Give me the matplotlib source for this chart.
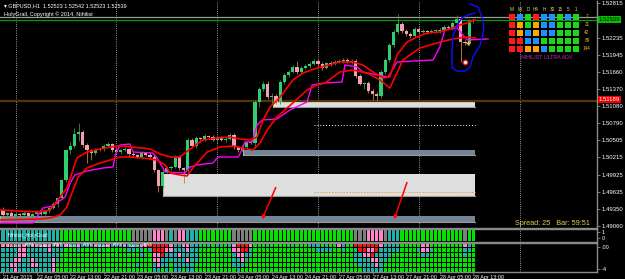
import matplotlib
matplotlib.use("Agg")
import matplotlib.pyplot as plt
import numpy as np

plt.rcParams['font.family'] = ['Liberation Sans', 'DejaVu Sans']

# ---------------------------------------------------------
# GBPUSD H1 candles (open of a bar = close of the bar before)
# ---------------------------------------------------------
first_open = 1.49330
close = [
    1.49245, 1.49279, 1.49229, 1.49262, 1.49245, 1.49279, 1.49229, 1.49262, 1.49296, 1.49262,
    1.49313, 1.49364, 1.49431, 1.49532, 1.49836, 1.50341, 1.50409, 1.50611, 1.50645, 1.50426,
    1.50341, 1.50291, 1.50341, 1.50358, 1.50409, 1.50443, 1.50341, 1.50308, 1.50341, 1.50358,
    1.50274, 1.50257, 1.50223, 1.50291, 1.50257, 1.50223, 1.50004, 1.49734, 1.49970, 1.50038,
    1.50055, 1.50223, 1.50038, 1.50004, 1.50510, 1.50409, 1.50544, 1.50527, 1.50577, 1.50561,
    1.50510, 1.50561, 1.50510, 1.50527, 1.50594, 1.50392, 1.50341, 1.50392, 1.50476, 1.50459,
    1.51151, 1.51370, 1.51454, 1.51235, 1.51252, 1.51151, 1.51488, 1.51606, 1.51656, 1.51741,
    1.51656, 1.51724, 1.51758, 1.51791, 1.51842, 1.51791, 1.51724, 1.51808, 1.51791, 1.51825,
    1.51842, 1.51859, 1.51825, 1.51842, 1.51589, 1.51454, 1.51471, 1.51336, 1.51286, 1.51252,
    1.51656, 1.51859, 1.52112, 1.52331, 1.52466, 1.52348, 1.52297, 1.52263, 1.52381, 1.52331,
    1.52348, 1.52331, 1.52348, 1.52348, 1.52365, 1.52415, 1.52398, 1.52483, 1.52550, 1.52162,
    1.52145, 1.52516, 1.52539,
]
# wicks beyond the body, in pips
wick_up = [
    5, 2, 3, 2, 2, 3, 2, 2, 3, 2,
    2, 2, 3, 2, 2, 2, 6, 10, 15, 4,
    3, 2, 3, 2, 3, 4, 2, 3, 2, 3,
    2, 3, 2, 3, 2, 3, 3, 2, 3, 3,
    2, 4, 3, 2, 3, 3, 4, 2, 3, 2,
    3, 2, 2, 3, 3, 4, 2, 3, 2, 3,
    3, 4, 5, 5, 5, 3, 4, 3, 3, 4,
    10, 3, 3, 3, 4, 3, 3, 2, 3, 3,
    3, 4, 3, 3, 3, 3, 2, 3, 4, 3,
    3, 4, 3, 4, 17, 3, 3, 3, 4, 3,
    3, 2, 3, 3, 3, 4, 3, 4, 6, 3,
    3, 4, 3,
]
wick_dn = [
    8, 2, 3, 2, 3, 2, 2, 3, 2, 2,
    2, 3, 2, 5, 2, 3, 6, 3, 12, 3,
    22, 12, 3, 2, 3, 2, 3, 2, 3, 2,
    5, 3, 2, 3, 2, 3, 4, 10, 3, 2,
    3, 2, 3, 22, 3, 2, 3, 2, 3, 2,
    2, 3, 2, 3, 2, 3, 3, 2, 3, 2,
    8, 9, 3, 3, 12, 3, 4, 3, 3, 2,
    3, 3, 2, 3, 2, 3, 3, 2, 3, 2,
    2, 3, 2, 3, 3, 2, 8, 3, 10, 6,
    3, 3, 3, 3, 3, 3, 4, 3, 2, 3,
    2, 3, 2, 3, 3, 2, 3, 3, 3, 33,
    4, 4, 3,
]

# ---------------------------------------------------------
# Moving averages (read at turning points)
# ---------------------------------------------------------
red_fast_x = [-0.7, 8.8, 11.2, 15.2, 17.6, 20.0, 23.1, 27.1, 31.0, 35.0, 37.4, 39.8, 42.1, 45.2,
              47.6, 50.95, 54.0, 56.4, 58.8, 60.5, 61.9, 63.6, 66.0, 69.0, 71.4, 74.8, 76.7, 80.2,
              83.3, 85.7, 88.1, 90.5, 92.1, 93.8, 96.2, 98.6, 101.0, 104.0, 106.4, 108.8, 110.5, 112.4]
red_fast_y = [1.49329, 1.49296, 1.49329, 1.49700, 1.50206, 1.50307, 1.50358, 1.50408, 1.50392, 1.50358,
              1.50274, 1.50223, 1.50223, 1.50392, 1.50510, 1.50543, 1.50560, 1.50527, 1.50510, 1.50560,
              1.50847, 1.51066, 1.51235, 1.51521, 1.51639, 1.51723, 1.51757, 1.51825, 1.51825, 1.51774,
              1.51656, 1.51555, 1.51572, 1.51943, 1.52162, 1.52246, 1.52314, 1.52331, 1.52381, 1.52449,
              1.52482, 1.52533]
red_slow_x = [-0.7, 8.8, 11.2, 13.6, 15.2, 16.4, 17.9, 20.0, 23.1, 25.5, 27.9, 30.2, 33.3, 36.7,
              38.6, 39.8, 42.1, 43.8, 45.2, 48.6, 51.7, 54.8, 57.1, 59.5, 61.2, 62.9, 65.2, 69.0,
              72.4, 74.8, 76.7, 80.2, 83.3, 86.7, 89.8, 92.1, 93.8, 95.2, 99.3, 103.3, 107.1, 110.5, 112.4]
red_slow_y = [1.49161, 1.49178, 1.49195, 1.49245, 1.49380, 1.49616, 1.49886, 1.50038, 1.50122, 1.50172,
              1.50223, 1.50223, 1.50206, 1.50172, 1.50088, 1.49953, 1.49920, 1.49903, 1.50038, 1.50307,
              1.50392, 1.50408, 1.50375, 1.50341, 1.50459, 1.50678, 1.50897, 1.51133, 1.51353, 1.51437,
              1.51471, 1.51656, 1.51690, 1.51639, 1.51521, 1.51386, 1.51639, 1.51858, 1.52061, 1.52145,
              1.52213, 1.52246, 1.52229]
magenta_x = [-0.7, 7.1, 9.5, 11.9, 14.8, 16.0, 17.1, 20.0, 23.8, 26.2, 26.7, 27.9, 30.2, 31.0,
             35.7, 36.7, 38.6, 43.3, 44.5, 46.2, 50.0, 51.2, 56.0, 56.9, 57.6, 59.3, 60.5, 61.7,
             65.2, 68.3, 72.4, 73.6, 76.7, 80.7, 81.4, 84.3, 85.7, 89.0, 91.7, 93.8, 102.4, 104.0,
             105.2, 108.1, 109.5, 110.5, 115.5]
magenta_y = [1.49110, 1.49110, 1.49363, 1.49397, 1.49549, 1.49785, 1.49920, 1.49987, 1.50038, 1.50054,
             1.50257, 1.50425, 1.50442, 1.50307, 1.50290, 1.50206, 1.49970, 1.49953, 1.50054, 1.50088,
             1.50122, 1.50223, 1.50223, 1.50341, 1.50476, 1.50476, 1.50763, 1.50847, 1.50864, 1.51015,
             1.51150, 1.51437, 1.51471, 1.51487, 1.51774, 1.51740, 1.51656, 1.51606, 1.51572, 1.51825,
             1.51858, 1.52078, 1.52364, 1.52398, 1.52280, 1.52196, 1.52213]

# ---------------------------------------------------------
# Supply / demand zones
# ---------------------------------------------------------
zone_start = [64.3, 57.1, 38.1, -0.7]
zone_end = [112.4, 112.4, 112.4, 112.4]
zone_top = [1.51184, 1.50341, 1.49936, 1.49228]
zone_bot = [1.51066, 1.50257, 1.49565, 1.49127]
zone_kind = ["light", "slate", "light", "slate"]

bid, ask = 1.52539, 1.52575
red_level, green_level = 1.51189, 1.51160
white_dotted, orange_dotted = 1.50763, 1.49633

arrow_from = [(65.2, 1.49751), (96.4, 1.49836)]
arrow_to = [(61.4, 1.49127), (92.9, 1.49127)]

loop_x = [111.2, 113.1, 114.3, 114.5, 113.6, 111.9, 111.2, 110.0, 107.9, 106.9, 106.9, 107.1,
          108.1, 109.3, 110.7, 112.4]
loop_y = [1.52803, 1.52752, 1.52533, 1.52364, 1.52112, 1.51909, 1.51740, 1.51673, 1.51673, 1.51740,
          1.51976, 1.52246, 1.52449, 1.52567, 1.52617, 1.52651]

price_ticks = [1.49060, 1.49350, 1.49635, 1.49925, 1.50215, 1.50505, 1.50790, 1.51080,
               1.51370, 1.51660, 1.51945, 1.52235, 1.52525, 1.52815]
# the 1.52525 label sits under the bid box
price_labels = ["1.49060", "1.49350", "1.49635", "1.49925", "1.50215", "1.50505", "1.50790", "1.51080",
                "1.51370", "1.51660", "1.51945", "1.52235", "", "1.52815"]
time_ticks = [0, 8, 16, 24, 32, 40, 48, 56, 64, 72, 80, 88, 96, 104, 112]
time_labels = ["21 Apr 2015", "22 Apr 05:00", "22 Apr 13:00", "22 Apr 21:00", "23 Apr 05:00",
               "23 Apr 13:00", "23 Apr 21:00", "24 Apr 05:00", "24 Apr 13:00", "24 Apr 21:00",
               "27 Apr 05:00", "27 Apr 13:00", "27 Apr 21:00", "28 Apr 05:00", "28 Apr 13:00"]
day_separators = [3, 27, 51, 75, 99, 123]

# ---------------------------------------------------------
# Indicator panels: one letter per bar
# g green, t teal, p pink, r red, a gray
# ---------------------------------------------------------
holygrail = ("tttttttttttttt" "ggggggggggggggggg" "aaaaa" "pppatappttt" "gggggggg"
             "aaaaa" "gggggggggggggggggggggggg" "aaappppa" "ttt" "ggggggggggggggg" "agg")
atr_rows = [
    "pprtpptpptpptp" "tpttptttpttptttpt" "ttppr" "rrrrpttpptt" "tgtgtggt" "prrrp"
    "gggtgggggtgggtttgtggptgg" "rrrrrrpt" "ttt" "gggggppgggggggg" "ptg",
    "ttttpptttttptt" "tgggtggggtggggggt" "tgtgt" "rrrpptttptt" "gggggggg" "pprrt"
    "gggggggggggggggttttggtgg" "trrpprtt" "ttt" "ggggtpptggggggg" "ttg",
    "ttttpptttttttt" "ggggggggggggggggg" "ggtgg" "pprtttptttt" "gggggggg" "tpptt"
    "gggggggggggggggggggggggg" "ttpprttt" "tgg" "gggggttgggggggg" "tgg",
    "tttppttpttttpt" "ggggggggggggggggg" "ggggg" "ppttttttptt" "gggggggg" "ttptg"
    "gggggggggggggggggggggggg" "ttttpptt" "ggg" "ggggggggggggggg" "ggg",
    "ttpptttpptttpg" "ggggggggggggggggg" "gtggg" "tpttgtttttg" "gggggggg" "tttgg"
    "gggggggggggggggggggggggg" "gttttptg" "ggg" "ggggggggggggggg" "ggg",
    "tttpttttttttpg" "ggggggggggggggggg" "ggggg" "ttgtgttgttg" "gggggggg" "gtggg"
    "gggggggggggggggggggggggg" "ggtttttg" "ggg" "ggggggggggggggg" "ggg",
]
atr_text_x = [1.0, 5.2, 8.3, 11.9, 15.2, 19.1, 22.4, 26.2, 29.8, 33.3]
atr_text = ["Nihilist_", "ATR6"] * 5

# dashboard
dash_cols = ["M", "W", "D", "H4", "H", "30", "15", "5", "1"]
dash_rows = ["7", "21", "42", "89", "144"]
dash_grid = ["rbgrbbgbg", "rogobbggg", "robobbggg", "rrbbggggg", "rroobgggg"]

CELL = {"g": "#00e400", "t": "#1fb0a8", "p": "#ff85c8", "r": "#ff1010", "a": "#7f7f7f"}
DASH = {"r": "#ff1a1a", "b": "#1e90ff", "g": "#18d818", "o": "#ffa500"}
GRID_GRAY = "#8a8a8a"

# =========================================================
W, H = 625, 279
fig = plt.figure(figsize=(W / 100, H / 100), dpi=100, facecolor="black")


def box(left, top, width, height):
    return [left / W, 1 - (top + height) / H, width / W, height / H]


ax = fig.add_axes(box(0, 1, 597, 227))
ax1 = fig.add_axes(box(0, 229, 597, 13))
ax2 = fig.add_axes(box(0, 243, 597, 29))

xmin, xmax = -0.714, 141.43
for a in (ax, ax1, ax2):
    a.set_facecolor("black")
    a.set_xlim(xmin, xmax)
    a.spines["left"].set_visible(False)
    for s in ("top", "bottom", "right"):
        a.spines[s].set_color(GRID_GRAY)
        a.spines[s].set_linewidth(1.0)
    for d in day_separators:
        a.axvline(d, color="#c8c8c8", ls=(0, (1, 1.6)), lw=0.6, zorder=1)
ax.spines["top"].set_visible(False)

# ---- main chart
ax.set_ylim(1.49026, 1.52853)
ax.yaxis.tick_right()
ax.set_yticks(price_ticks)
ax.set_yticklabels(price_labels)
ax.tick_params(axis="y", colors=GRID_GRAY, labelcolor="white", labelsize=4.3, length=2, pad=1.5, width=0.6)
ax.tick_params(axis="x", bottom=False, labelbottom=False)

colors_zone = {"light": "#dedede", "slate": "#748596"}
for s, e, t, b, k in zip(zone_start, zone_end, zone_top, zone_bot, zone_kind):
    ax.fill_between([s, e], b, t, color=colors_zone[k], lw=0, zorder=2)
    ax.plot([s, e], [b, b], color="#9a9a9a", lw=0.8, zorder=2)
    ax.plot([s, s], [b, t], color="#77dd77", lw=0.7, zorder=2)

ax.axhline(ask, color="#9c9c9c", lw=0.9, zorder=2)
ax.axhline(bid, color="#00a000", lw=0.9, zorder=2)
ax.axhline(red_level, color="#c00000", lw=0.9, zorder=2)
ax.axhline(green_level, color="#006000", lw=0.9, zorder=2)
ax.hlines(white_dotted, 74, 112.4, colors="white", linestyles=(0, (1, 2)), lw=0.7, zorder=2)
ax.hlines(orange_dotted, 74, 112.4, colors="#ff9933", linestyles=(0, (1.5, 1.5)), lw=0.7, zorder=2)

n = len(close)
bars = np.arange(n)
cl = np.array(close)
op = np.r_[first_open, cl[:-1]]
hi = np.maximum(op, cl) + np.array(wick_up) * 1e-4
lo = np.minimum(op, cl) - np.array(wick_dn) * 1e-4
bull = cl >= op
ax.vlines(bars, lo, hi, colors=np.where(bull, "#3f8f3f", "#c8803c"), lw=0.6, zorder=3)
ax.bar(bars, np.maximum(np.abs(cl - op), 0.00008), bottom=np.minimum(op, cl), width=0.72,
       color=np.where(bull, "#2fcf70", "#f3a0b6"), lw=0, zorder=4)

ax.plot(magenta_x, magenta_y, color="#ff00ff", lw=1.0, zorder=5)
ax.plot(red_slow_x, red_slow_y, color="#ff0000", lw=1.2, zorder=6)
ax.plot(red_fast_x, red_fast_y, color="#ff0000", lw=1.2, zorder=6)

for (x0, y0), (x1, y1) in zip(arrow_from, arrow_to):
    ax.annotate("", xy=(x1, y1), xytext=(x0, y0), zorder=7,
                arrowprops=dict(arrowstyle="-|>", color="#ff0000", lw=1.1, mutation_scale=5))

ax.plot(loop_x, loop_y, color="#1010ff", lw=1.0, zorder=7)
ax.plot([110.0], [1.51825], marker="o", ms=3.2, mfc="white", mec="#ff2020", mew=1.0, zorder=8)
ax.plot([110.7], [1.52145], marker="+", ms=3.5, color="#ffcc33", mew=1.0, zorder=8)

# price boxes on the axis
ax.text(1.003, bid, "1.52539", transform=ax.get_yaxis_transform(), fontsize=4.3, color="black",
        va="center", ha="left", bbox=dict(boxstyle="square,pad=0.15", fc="#00c000", ec="none"),
        zorder=9, clip_on=False)
ax.text(1.003, red_level, "1.51189", transform=ax.get_yaxis_transform(), fontsize=4.3, color="white",
        va="center", ha="left", bbox=dict(boxstyle="square,pad=0.15", fc="#ee0000", ec="none"),
        zorder=9, clip_on=False)

ax.text(0.006, 0.992, "\u25be GBPUSD,H1  1.52523 1.52542 1.52523 1.52539", transform=ax.transAxes,
        color="white", fontsize=4.0, va="top", ha="left")
ax.text(0.006, 0.955, "HolyGrail, Copyright \u00a9 2014, Nihilist", transform=ax.transAxes,
        color="white", fontsize=4.0, va="top", ha="left")
ax.text(0.988, 0.006, "Spread: 25   Bar: 59:51", transform=ax.transAxes, color="#e0d050",
        fontsize=5.2, va="bottom", ha="right", zorder=9)

# ---- dashboard
axd = fig.add_axes(box(505, 4, 92, 58))
axd.set_xlim(-0.5, 11.0)
axd.set_ylim(6.0, -1.25)
axd.axis("off")
axd.patch.set_alpha(0)
for r, row in enumerate(dash_grid):
    axd.bar(np.arange(len(row)) + 0.375, 0.75, bottom=r, width=0.75,
            color=[DASH[c] for c in row], lw=0)
    axd.text(9.75, r + 0.375, dash_rows[r], color="#e0c040", fontsize=3.3, ha="center", va="center")
for c, lab in enumerate(dash_cols):
    axd.text(c + 0.375, -0.6, lab, color="#e0d860", fontsize=3.3, ha="center", va="center")
axd.text(4.75, 5.4, "NIHILIST ULTRA ADX", color="#c030c0", fontsize=3.8, ha="center", va="center")

# ---- HolyGrail panel
ax1.set_ylim(0, 1)
ax1.bar(bars, 0.86, bottom=0.07, width=0.8, color=[CELL[c] for c in holygrail], lw=0, zorder=2)
ax1.set_xticks([])
ax1.yaxis.tick_right()
ax1.set_yticks([0.75, 0.3])
ax1.set_yticklabels(["1", "0"])
ax1.tick_params(axis="y", colors=GRID_GRAY, labelcolor="white", labelsize=4.0, length=2, pad=1.5, width=0.6)
ax1.text(1.0, 0.5, "Nihilist_HolyGrail", color="white", fontsize=3.8, va="center", ha="left", zorder=3)

# ---- ATR panel
ax2.set_ylim(0, 6)
for r, row in enumerate(atr_rows):
    ax2.bar(bars, 0.8, bottom=5.1 - r, width=0.8, color=[CELL[c] for c in row], lw=0, zorder=2)
for tx, t in zip(atr_text_x, atr_text):
    ax2.text(tx, 5.5, t, color="white", fontsize=2.8, va="center", ha="left", zorder=3)
ax2.yaxis.tick_right()
ax2.set_yticks([5.1, 0.6])
ax2.set_yticklabels([".00", "-4"])
ax2.tick_params(axis="y", colors=GRID_GRAY, labelcolor="white", labelsize=4.0, length=2, pad=1.5, width=0.6)
ax2.set_xticks(time_ticks)
ax2.set_xticklabels(time_labels, ha="left")
ax2.tick_params(axis="x", colors=GRID_GRAY, labelcolor="white", labelsize=3.9, length=1.5, pad=0.3, width=0.6)

fig.savefig("out.png", dpi=100, facecolor="black")
